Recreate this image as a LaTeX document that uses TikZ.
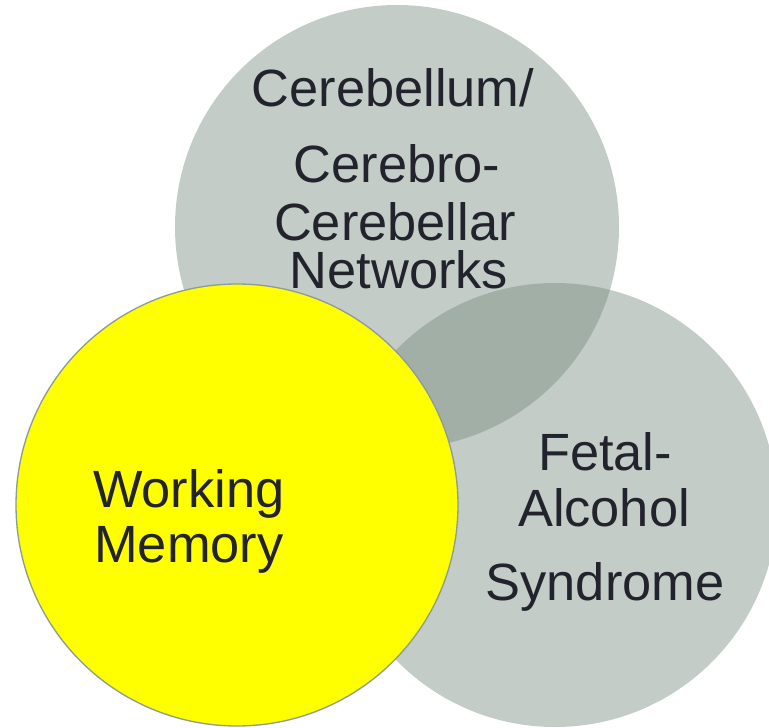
\documentclass[tikz,border=0pt]{standalone}
\usepackage{fontspec}
\setmainfont{Liberation Sans}
\usepackage{xcolor}
\definecolor{vennGray}{RGB}{119,139,126}
\definecolor{vennYellow}{RGB}{255,255,0}
\definecolor{vennEdge}{RGB}{140,156,150}
\definecolor{vennText}{RGB}{35,35,45}

\begin{document}
\begin{tikzpicture}[x=0.75pt,y=-0.75pt,
  setfill/.style={fill=vennGray,fill opacity=0.44},
  lbl/.style={anchor=base,text=vennText,inner sep=0pt,
    font=\fontsize{39.3}{47}\selectfont}]
\useasboundingbox (0,0) rectangle (769,728);
\clip (0,0) rectangle (769,728);
% grey sets
\fill[setfill] (397,227) circle[radius=166.5pt];
\fill[setfill] (555,505) circle[radius=166.5pt];
% yellow set
\filldraw[fill=vennYellow,draw=vennEdge,line width=1pt] (237,505) circle[radius=165.75pt];
% labels
\node[lbl] (cer1) at (393,106) {Cerebellum/};
\node[lbl] (cer2) at (397,182) {Cerebro-};
\node[lbl] (cer3) at (395,240) {Cerebellar};
\node[lbl] (cer4) at (399,288) {Networks};
\node[lbl] (fas1) at (605,470) {Fetal-};
\node[lbl] (fas2) at (604,526) {Alcohol};
\node[lbl] (fas3) at (605,600) {Syndrome};
\node[lbl,anchor=base west] (wm1) at (93,507) {Working};
\node[lbl,anchor=base west] (wm2) at (94,562) {Memory};
\end{tikzpicture}
\end{document}
